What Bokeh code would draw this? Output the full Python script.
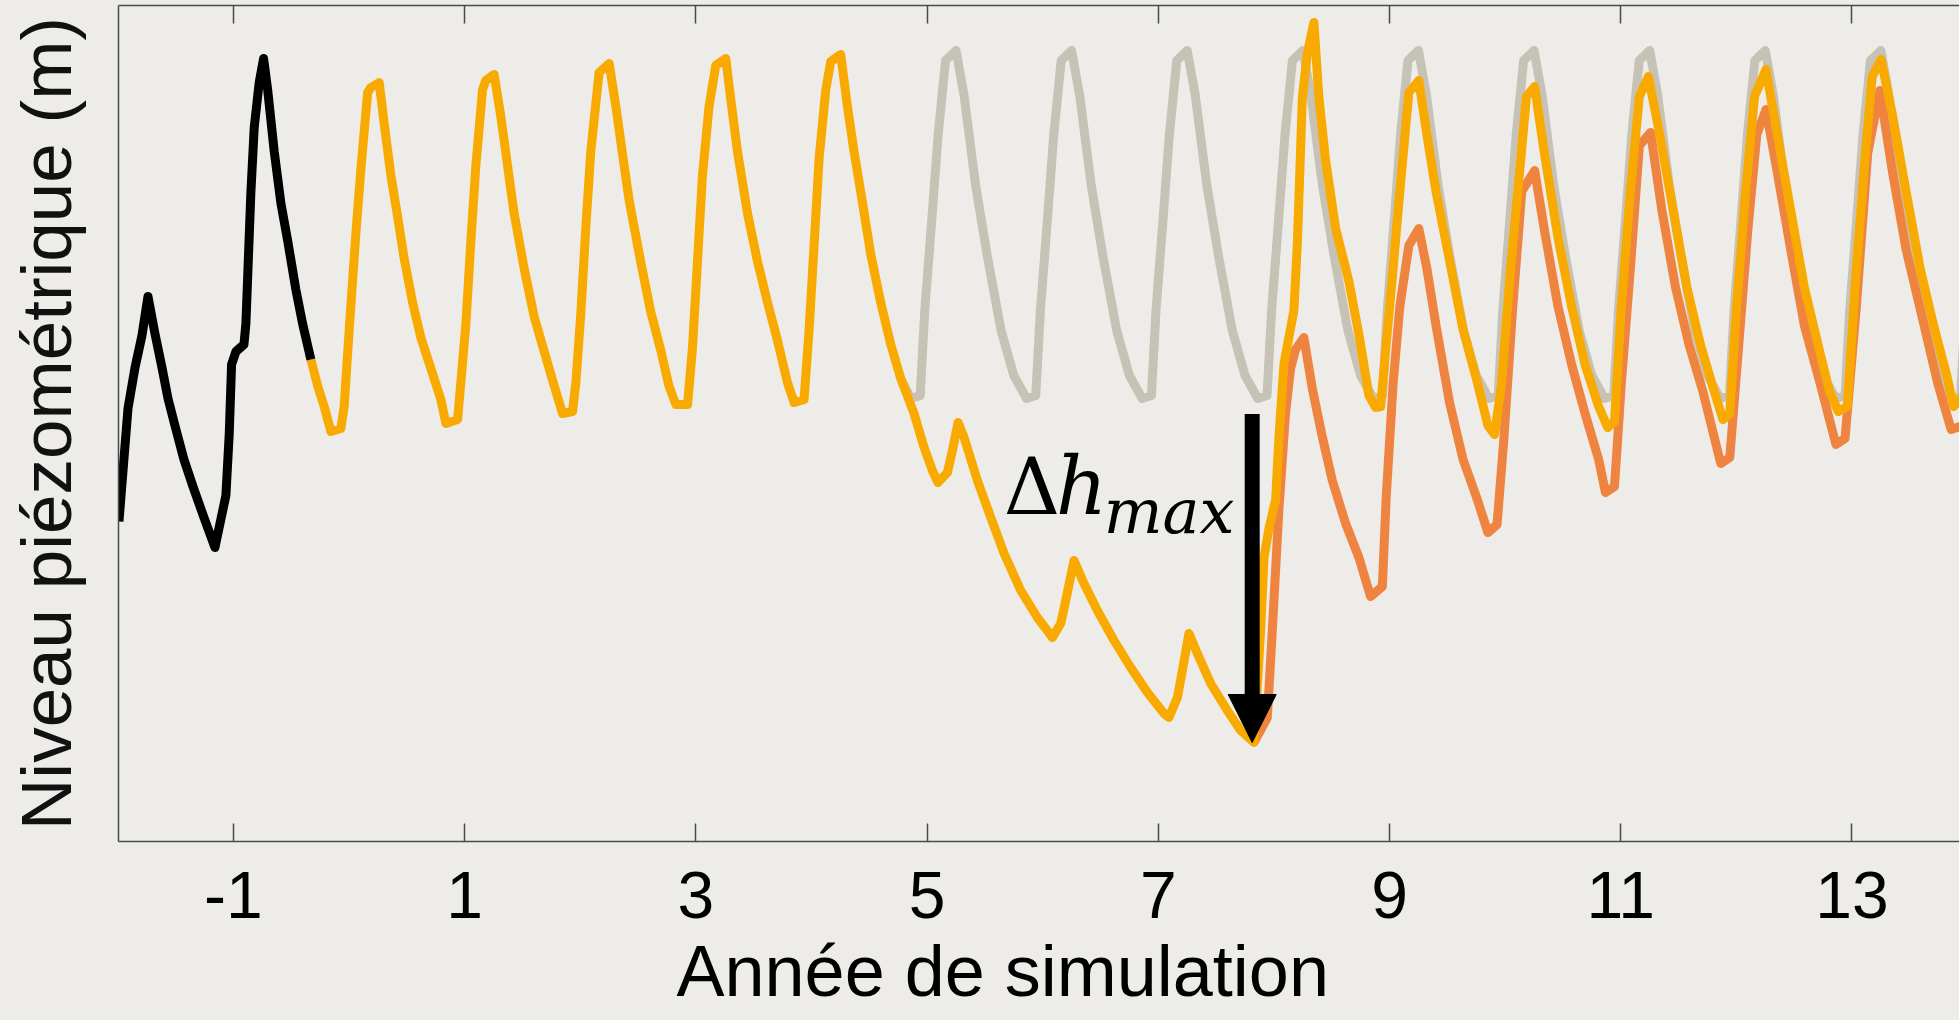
from bokeh.plotting import figure
from bokeh.models import Range1d, LinearAxis, FixedTicker, Label, Arrow, NormalHead, Title
from bokeh.embed import file_html
from bokeh.resources import INLINE

# ---------------- data (years, level in m) ----------------
tick_years = [-1, 1, 3, 5, 7, 9, 11, 13]
tick_labels = ["-1", "1", "3", "5", "7", "9", "11", "13"]

# historical period (black)
black_x = [-1.990, -1.912, -1.851, -1.791, -1.739, -1.679, -1.618, -1.566, -1.506, -1.428,
           -1.350, -1.255, -1.160, -1.065, -1.036, -1.016, -0.978, -0.909, -0.892, -0.849,
           -0.820, -0.777, -0.739, -0.704, -0.647, -0.589, -0.531, -0.460, -0.402, -0.330]
black_y = [3.19, 4.32, 4.73, 5.05, 5.44, 5.07, 4.73, 4.42, 4.15, 3.81,
           3.54, 3.23, 2.93, 3.45, 4.07, 4.76, 4.89, 4.96, 5.17, 6.48,
           7.13, 7.58, 7.82, 7.51, 6.89, 6.37, 6.00, 5.51, 5.17, 4.81]

# simulation with pumping then recovery (yellow-orange)
orange_x = [-0.330, -0.272, -0.215, -0.157, -0.071, -0.042, 0.001, 0.059, 0.103, 0.161, 0.189, 0.261,
            0.304, 0.362, 0.420, 0.477, 0.550, 0.621, 0.708, 0.794, 0.838,
            0.939, 0.967, 1.011, 1.054, 1.097, 1.155, 1.183, 1.255,
            1.313, 1.371, 1.428, 1.515, 1.601, 1.688, 1.774, 1.847,
            1.933, 1.962, 2.005, 2.048, 2.091, 2.163, 2.250,
            2.308, 2.366, 2.423, 2.524, 2.611, 2.697, 2.766, 2.827,
            2.928, 2.971, 3.014, 3.057, 3.114, 3.172, 3.259,
            3.302, 3.360, 3.447, 3.533, 3.620, 3.706, 3.792, 3.850,
            3.936, 3.979, 4.023, 4.066, 4.124, 4.167, 4.253,
            4.311, 4.368, 4.441, 4.513, 4.599, 4.686, 4.772, 4.887, 4.974, 5.046, 5.094,
            5.176, 5.219, 5.268, 5.320, 5.435, 5.551, 5.666, 5.810, 5.954, 6.084,
            6.156, 6.199, 6.271, 6.357, 6.473, 6.617, 6.761, 6.906, 7.049, 7.092,
            7.165, 7.208, 7.265, 7.338, 7.453, 7.597, 7.712, 7.827,
            7.885, 7.914, 7.957, 8.015, 8.044, 8.087, 8.173, 8.203, 8.246, 8.289, 8.346,
            8.389, 8.447, 8.534, 8.649, 8.735, 8.822, 8.880,
            8.923, 8.971, 9.031, 9.089, 9.167, 9.253,
            9.323, 9.402, 9.519, 9.636, 9.753, 9.851, 9.909,
            9.969, 10.047, 10.125, 10.184, 10.255,
            10.340, 10.457, 10.575, 10.691, 10.809, 10.887,
            10.946, 11.005, 11.083, 11.161, 11.239,
            11.337, 11.454, 11.572, 11.689, 11.806, 11.884,
            11.943, 12.002, 12.080, 12.157, 12.256,
            12.354, 12.470, 12.588, 12.706, 12.803, 12.881,
            12.959, 13.038, 13.116, 13.175, 13.252,
            13.351, 13.468, 13.590, 13.706, 13.820, 13.879, 13.960]
orange_y = [4.81, 4.55, 4.34, 4.09, 4.12, 4.34, 5.10, 6.07, 6.72, 7.48, 7.53, 7.58,
            7.17, 6.65, 6.24, 5.82, 5.38, 5.03, 4.72, 4.41, 4.17,
            4.21, 4.58, 5.17, 6.00, 6.75, 7.51, 7.60, 7.66,
            7.24, 6.75, 6.27, 5.72, 5.24, 4.89, 4.55, 4.27,
            4.29, 4.58, 5.27, 6.13, 6.89, 7.68, 7.77,
            7.34, 6.86, 6.40, 5.78, 5.28, 4.90, 4.55, 4.36,
            4.36, 4.93, 5.79, 6.65, 7.34, 7.75, 7.82,
            7.41, 6.89, 6.27, 5.79, 5.38, 5.00, 4.58, 4.38,
            4.41, 5.10, 5.96, 6.82, 7.51, 7.79, 7.86,
            7.34, 6.89, 6.38, 5.86, 5.38, 4.96, 4.62, 4.27, 3.93, 3.70, 3.58,
            3.68, 3.90, 4.18, 4.03, 3.60, 3.23, 2.87, 2.50, 2.23, 2.03,
            2.17, 2.40, 2.80, 2.57, 2.30, 2.00, 1.73, 1.48, 1.27, 1.23,
            1.43, 1.70, 2.07, 1.87, 1.57, 1.30, 1.10, 0.98,
            2.10, 2.83, 3.12, 3.41, 4.04, 4.77, 5.30, 5.98, 7.43, 7.87, 8.18,
            7.43, 6.80, 6.12, 5.59, 5.06, 4.45, 4.33,
            4.34, 4.96, 5.72, 6.49, 7.48, 7.60,
            7.06, 6.49, 5.80, 5.11, 4.61, 4.15, 4.06,
            4.57, 5.72, 6.68, 7.44, 7.54,
            6.87, 6.03, 5.34, 4.76, 4.34, 4.13,
            4.19, 5.34, 6.49, 7.44, 7.64,
            7.06, 6.30, 5.53, 4.96, 4.50, 4.21,
            4.27, 5.34, 6.49, 7.44, 7.71,
            7.06, 6.30, 5.53, 4.96, 4.50, 4.29,
            4.34, 5.72, 6.87, 7.64, 7.81,
            7.25, 6.49, 5.72, 5.15, 4.65, 4.34, 4.45]

# second scenario (darker orange)
red_x = [7.827, 7.943, 7.986, 8.043, 8.101, 8.144, 8.187, 8.259,
         8.332, 8.418, 8.505, 8.620, 8.735, 8.836,
         8.938, 8.971, 9.031, 9.089, 9.167, 9.253,
         9.323, 9.402, 9.519, 9.636, 9.753, 9.851,
         9.930, 9.988, 10.066, 10.144, 10.255,
         10.340, 10.457, 10.575, 10.691, 10.809, 10.868,
         10.946, 11.005, 11.083, 11.161, 11.258,
         11.356, 11.474, 11.590, 11.708, 11.865,
         11.943, 12.021, 12.099, 12.177, 12.256,
         12.354, 12.470, 12.588, 12.725, 12.861,
         12.940, 13.038, 13.136, 13.241,
         13.351, 13.468, 13.624, 13.742, 13.858, 13.960]
red_y = [0.98, 1.23, 2.10, 3.31, 4.28, 4.72, 4.91, 5.03,
         4.52, 4.04, 3.60, 3.17, 2.83, 2.44,
         2.54, 3.43, 4.57, 5.34, 5.95, 6.12,
         5.72, 5.15, 4.38, 3.81, 3.43, 3.08,
         3.16, 4.00, 5.34, 6.49, 6.70,
         6.10, 5.34, 4.76, 4.27, 3.81, 3.48,
         3.54, 4.57, 5.72, 6.95, 7.08,
         6.30, 5.53, 4.96, 4.50, 3.77,
         3.83, 4.96, 6.10, 7.06, 7.31,
         6.68, 5.91, 5.15, 4.57, 3.96,
         4.02, 5.34, 6.87, 7.50,
         6.68, 5.91, 5.15, 4.57, 4.11, 4.15]

# reference without pumping (grey)
gray_x = [4.772,
          4.86, 4.94, 4.98, 5.04, 5.095, 5.16, 5.25, 5.32, 5.42, 5.52, 5.64, 5.75,
          5.86, 5.94, 5.98, 6.04, 6.095, 6.16, 6.25, 6.32, 6.42, 6.52, 6.64, 6.75,
          6.86, 6.94, 6.98, 7.04, 7.095, 7.16, 7.25, 7.32, 7.42, 7.52, 7.64, 7.75,
          7.86, 7.94, 7.98, 8.04, 8.095, 8.16, 8.25, 8.32, 8.42, 8.52, 8.64, 8.75,
          8.86, 8.94, 8.98, 9.04, 9.095, 9.16, 9.25, 9.32, 9.42, 9.52, 9.64, 9.75,
          9.86, 9.94, 9.98, 10.04, 10.095, 10.16, 10.25, 10.32, 10.42, 10.52, 10.64, 10.75,
          10.86, 10.94, 10.98, 11.04, 11.095, 11.16, 11.25, 11.32, 11.42, 11.52, 11.64, 11.75,
          11.86, 11.94, 11.98, 12.04, 12.095, 12.16, 12.25, 12.32, 12.42, 12.52, 12.64, 12.75,
          12.86, 12.94, 12.98, 13.04, 13.095, 13.16, 13.25, 13.32, 13.42, 13.52, 13.64, 13.75,
          13.86, 13.94, 13.98]
gray_y = [4.62,
          4.42, 4.45, 5.30, 6.20, 7.05, 7.80, 7.90, 7.45, 6.55, 5.85, 5.10, 4.65,
          4.42, 4.45, 5.30, 6.20, 7.05, 7.80, 7.90, 7.45, 6.55, 5.85, 5.10, 4.65,
          4.42, 4.45, 5.30, 6.20, 7.05, 7.80, 7.90, 7.45, 6.55, 5.85, 5.10, 4.65,
          4.42, 4.45, 5.30, 6.20, 7.05, 7.80, 7.90, 7.45, 6.55, 5.85, 5.10, 4.65,
          4.42, 4.45, 5.30, 6.20, 7.05, 7.80, 7.90, 7.45, 6.55, 5.85, 5.10, 4.65,
          4.42, 4.45, 5.30, 6.20, 7.05, 7.80, 7.90, 7.45, 6.55, 5.85, 5.10, 4.65,
          4.42, 4.45, 5.30, 6.20, 7.05, 7.80, 7.90, 7.45, 6.55, 5.85, 5.10, 4.65,
          4.42, 4.45, 5.30, 6.20, 7.05, 7.80, 7.90, 7.45, 6.55, 5.85, 5.10, 4.65,
          4.42, 4.45, 5.30, 6.20, 7.05, 7.80, 7.90, 7.45, 6.55, 5.85, 5.10, 4.65,
          4.42, 4.45, 5.30]

# annotation: maximum drawdown arrow
arrow_x = 7.812
arrow_top = 4.265
arrow_tip = 0.98

assert len(black_x) == len(black_y)
assert len(orange_x) == len(orange_y), (len(orange_x), len(orange_y))
assert len(red_x) == len(red_y), (len(red_x), len(red_y))
assert len(gray_x) == len(gray_y), (len(gray_x), len(gray_y))

# ---------------- styling ----------------
BG = "#EDECE8"
AX = "#4a4a4a"
C_GRAY = "#C7C2B6"
C_YEL = "#F9AA00"
C_RED = "#EF8340"
LW = 9

p = figure(width=1959, height=1020, output_backend="svg", toolbar_location=None,
           x_range=Range1d(-1.994, 13.93), y_range=Range1d(-0.01, 8.35),
           x_axis_location=None, y_axis_location=None,
           min_border_left=118, min_border_right=0, min_border_top=5, min_border_bottom=179,
           background_fill_color=BG, border_fill_color=BG, outline_line_color=None)
p.grid.visible = False

xb = LinearAxis(ticker=FixedTicker(ticks=tick_years),
                major_label_overrides={t: s for t, s in zip(tick_years, tick_labels)},
                axis_line_color=AX, axis_line_width=1.5,
                major_tick_line_color=AX, major_tick_line_width=1.5,
                major_tick_in=18, major_tick_out=0, minor_tick_in=0, minor_tick_out=0,
                major_label_standoff=30,
                major_label_text_font="Liberation Sans", major_label_text_font_size="66px",
                major_label_text_color="black")
p.add_layout(xb, "below")

xt = LinearAxis(ticker=FixedTicker(ticks=tick_years),
                major_label_overrides={t: "" for t in tick_years},
                axis_line_color=AX, axis_line_width=1.5,
                major_tick_line_color=AX, major_tick_line_width=1.5,
                major_tick_in=18, major_tick_out=0, minor_tick_in=0, minor_tick_out=0,
                major_label_standoff=0, major_label_text_font_size="1px")
p.add_layout(xt, "above")

yl = LinearAxis(ticker=FixedTicker(ticks=[]),
                axis_label="Niveau piézométrique (m)",
                axis_label_text_font="Liberation Sans", axis_label_text_font_size="71px",
                axis_label_text_font_style="normal", axis_label_text_color="#111111",
                axis_label_standoff=33,
                axis_line_color=AX, axis_line_width=1.5,
                major_tick_in=0, major_tick_out=0, minor_tick_in=0, minor_tick_out=0,
                major_label_standoff=0, major_label_text_font_size="1px")
p.add_layout(yl, "left")

p.add_layout(Title(text="Année de simulation", align="left", offset=558, standoff=16,
                   text_font="Liberation Sans", text_font_size="72px",
                   text_font_style="normal", text_color="black"), "below")

p.line(gray_x, gray_y, line_color=C_GRAY, line_width=LW, line_join="round")
p.line(red_x, red_y, line_color=C_RED, line_width=LW, line_join="round")
p.line(orange_x, orange_y, line_color=C_YEL, line_width=LW, line_join="round")
p.line(black_x, black_y, line_color="black", line_width=LW, line_join="round")

p.add_layout(Arrow(end=NormalHead(size=48, fill_color="black", line_color="black", line_width=1),
                   x_start=arrow_x, y_start=arrow_top, x_end=arrow_x, y_end=arrow_tip,
                   line_color="black", line_width=15))

p.add_layout(Label(x=5.663, y=3.54, text="Δ", text_font="DejaVu Serif", text_font_size="78px",
                   text_baseline="alphabetic", text_align="left", text_color="black"))
p.add_layout(Label(x=6.113, y=3.54, text="h", text_font="DejaVu Serif", text_font_style="italic",
                   text_font_size="80px", text_baseline="alphabetic", text_align="left", text_color="black"))
p.add_layout(Label(x=6.528, y=3.29, text="max", text_font="DejaVu Serif", text_font_style="italic",
                   text_font_size="62px", text_baseline="alphabetic", text_align="left", text_color="black"))

html = file_html(p, INLINE)
html = html.replace("<head>", "<head><style>html,body{background:#EDECE8;}</style>", 1)
open("out.html", "w").write(html)
